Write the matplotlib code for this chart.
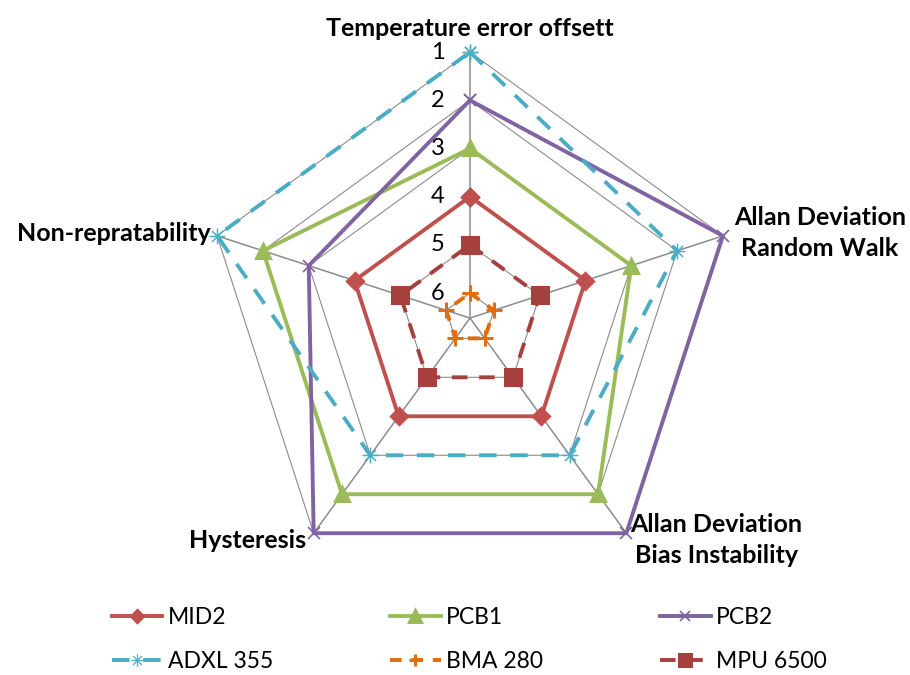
import numpy as np
import matplotlib.pyplot as plt

plt.rcParams['font.family'] = ['Lato', 'DejaVu Sans']

# Ejes del radar (en sentido horario desde arriba)
ejes = ['Temperature error offsett',
        'Allan Deviation\nRandom Walk',
        'Allan Deviation\nBias Instability',
        'Hysteresis',
        'Non-repratability']

# Posición (ranking) de cada sensor en cada eje: 1 = mejor (exterior)
series = ['MID2', 'PCB1', 'PCB2', 'ADXL 355', 'BMA 280', 'MPU 6500']
mid2 = [4, 4, 4, 4, 4]
pcb1 = [3, 3, 2, 2, 2]
pcb2 = [2, 1, 1, 1, 3]
adxl355 = [1, 2, 3, 3, 1]
bma280 = [6, 6, 6, 6, 6]
mpu6500 = [5, 5, 5, 5, 5]
niveles = [1, 2, 3, 4, 5, 6]

valores = [mid2, pcb1, pcb2, adxl355, bma280, mpu6500]
colores = ['#C0504D', '#9BBB59', '#8064A2', '#4BACC6', '#E46C0A', '#A5403D']
marcadores = ['D', '^', 'x', '$\u2733$', '+', 's']
tam_marc = [8, 10, 9, 11, 11, 11]
estilos = ['-', '-', '-', (0, (4.5, 3.5)), (0, (3, 2.5)), (0, (4, 3))]

r_centro = 6.52  # valor que cae en el centro (escala invertida)

n = len(ejes)
ang = np.linspace(0, 2 * np.pi, n, endpoint=False)
ang_c = np.append(ang, ang[0])

fig = plt.figure(figsize=(9.1, 6.75), dpi=100)
ax = fig.add_axes([0.2242, 0.1348, 0.5846, 0.788], projection='polar')
ax.set_theta_zero_location('N')
ax.set_theta_direction(-1)
ax.set_ylim(r_centro, 1)
ax.grid(False)
ax.set_xticks([])
ax.set_yticks([])
ax.spines['polar'].set_visible(False)

# Rejilla pentagonal y radios
gris = '#8C8C8C'
for nv in niveles:
    ax.plot(ang_c, [nv] * (n + 1), color=gris, lw=0.8, zorder=1, clip_on=False)
for a in ang:
    ax.plot([a, a], [r_centro, 1], color=gris, lw=1.1, zorder=1, clip_on=False)

# Etiquetas de la escala sobre el eje superior
for nv in niveles:
    ax.annotate(str(nv), xy=(0, nv), xytext=(-32, 0), textcoords='offset pixels',
                ha='center', va='center', fontsize=17, color='black')

# Series
handles = []
for nombre, vals, c, m, ms, ls in zip(series, valores, colores, marcadores, tam_marc, estilos):
    v = np.append(vals, vals[0])
    mew = 1.2 if m == 'x' else 2.2
    if m == '$\u2733$':
        mew = 0.3
    h, = ax.plot(ang_c, v, color=c, lw=2.8, ls=ls, marker=m, ms=ms, mec=c, mfc=c,
                 mew=mew, label=nombre, zorder=3, clip_on=False)
    handles.append(h)

# Etiquetas de los ejes
offs = [(0, 24), (97, 3), (90, -7), (-8, -7), (-6, 2)]
aligns = [('center', 'right'), ('center', 'center'), ('center', 'center'),
          ('right', 'right'), ('right', 'right')]
for a, txt, off, (ha, ma) in zip(ang, ejes, offs, aligns):
    ax.annotate(txt, xy=(a, 1), xytext=off, textcoords='offset pixels',
                ha=ha, va='center', multialignment=ma, fontsize=18,
                fontweight='bold', linespacing=1.4)

# Leyenda en tres columnas (se rellena por columnas)
orden = [0, 3, 1, 4, 2, 5]
fig.legend([handles[i] for i in orden], [series[i] for i in orden], ncol=3,
           loc='upper left', bbox_to_anchor=(0.123, 0.1), frameon=False,
           borderpad=0, borderaxespad=0, fontsize=16.5, handlelength=2.2,
           columnspacing=5.1, labelspacing=1.0, handletextpad=0.25,
           markerscale=0.8)

plt.savefig('out.png', dpi=100)
